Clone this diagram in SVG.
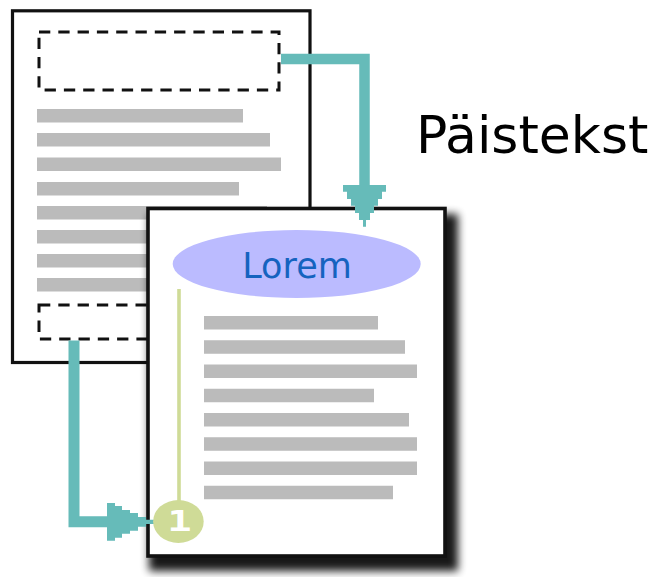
<svg xmlns="http://www.w3.org/2000/svg" width="658" height="577" viewBox="0 0 658 577">
  <style>
    .page { fill: #ffffff; stroke: #111111; }
    .dash { fill: none; stroke: #111111; stroke-width: 3; stroke-dasharray: 11.3 8; }
    .bar { fill: #bbbbbb; }
    .conn { fill: none; stroke: #66bbb9; stroke-linejoin: miter; stroke-linecap: butt; }
    .head { fill: #66bbb9; }
  </style>
  <defs>
    <filter id="shadow" x="-10%" y="-10%" width="120%" height="120%">
      <feGaussianBlur stdDeviation="4"/>
    </filter>
  </defs>
  <rect width="658" height="577" fill="#ffffff"/>

  <g id="page-back">
    <rect class="page" x="12.5" y="10.8" width="297.5" height="351.7" stroke-width="3.2"/>
    <rect class="dash" x="39" y="32" width="240" height="58"/>
    <rect class="bar" x="37" y="109" width="206" height="13.5"/>
    <rect class="bar" x="37" y="133" width="233" height="13.5"/>
    <rect class="bar" x="37" y="157.5" width="244" height="13.5"/>
    <rect class="bar" x="37" y="182" width="202" height="13.5"/>
    <rect class="bar" x="37" y="206" width="230" height="13.5"/>
    <rect class="bar" x="37" y="230" width="240" height="13.5"/>
    <rect class="bar" x="37" y="254" width="240" height="13.5"/>
    <rect class="bar" x="37" y="278" width="220" height="13.5"/>
    <rect class="dash" x="39" y="305" width="240" height="34"/>
  </g>

  <g id="page-front">
    <rect x="149" y="214" width="309" height="357" fill="#000000" opacity="0.9" filter="url(#shadow)"/>
    <rect class="page" x="148" y="208.5" width="297" height="347.5" stroke-width="3.6"/>
    <g id="title-ellipse">
      <ellipse cx="296.7" cy="264" rx="124" ry="34" fill="#bbbbff"/>
      <text x="297" y="278" text-anchor="middle" font-family="DejaVu Sans, Verdana, sans-serif" font-size="35" fill="#1563bf">Lorem</text>
    </g>
    <rect class="bar" x="204" y="316" width="174" height="13.5"/>
    <rect class="bar" x="204" y="340.25" width="201" height="13.5"/>
    <rect class="bar" x="204" y="364.5" width="213" height="13.5"/>
    <rect class="bar" x="204" y="388.75" width="170" height="13.5"/>
    <rect class="bar" x="204" y="413" width="205" height="13.5"/>
    <rect class="bar" x="204" y="437.25" width="213" height="13.5"/>
    <rect class="bar" x="204" y="461.5" width="213" height="13.5"/>
    <rect class="bar" x="204" y="485.75" width="189" height="13.5"/>
    <line x1="179" y1="289" x2="179" y2="505" stroke="#cfdb97" stroke-width="3.6"/>
  </g>

  <g id="label">
    <text x="416" y="153" font-family="DejaVu Sans, Verdana, sans-serif" font-size="52" fill="#000000">Päistekst</text>
  </g>

  <g id="connectors">
    <polyline class="conn" points="281,59 364.5,59 364.5,186" stroke-width="10.5"/>
    <polygon class="head" points="343,185 386,185 386,191.7 382,191.7 382,199 378,199 378,205.7 374,205.7 374,213 370,213 370,220 366,220 366,226.7 363,226.7 363,220 359,220 359,213 355,213 355,205.7 351,205.7 351,199 347,199 347,191.7 343,191.7"/>
    <polyline class="conn" points="74,340.5 74,521.7 108,521.7" stroke-width="11"/>
    <polygon class="head" points="107,503 115,503 115,506 122,506 122,510 130,510 130,513 138,513 138,517 146,517 146,519.7 154,519.7 154,524 146,524 146,526.7 138,526.7 138,530.7 130,530.7 130,533.7 122,533.7 122,537.7 115,537.7 115,540.7 107,540.7"/>
  </g>

  <g id="footnote-marker">
    <ellipse cx="178.4" cy="521.5" rx="25.3" ry="21.5" fill="#cfdb97"/>
    <text transform="translate(179.5,531) scale(1.45,1)" text-anchor="middle" font-family="DejaVu Sans Mono, monospace" font-weight="bold" font-size="28" fill="#ffffff">1</text>
  </g>
</svg>
